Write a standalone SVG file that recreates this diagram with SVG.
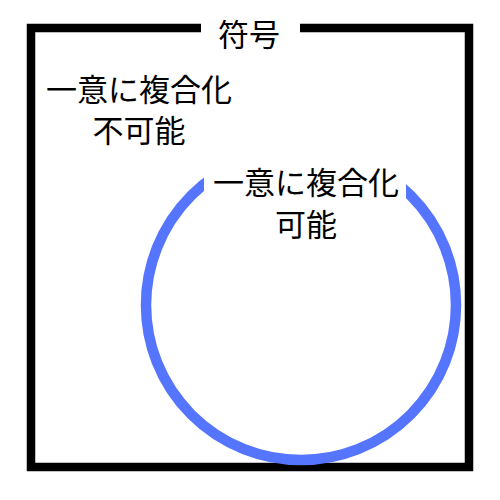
<svg xmlns="http://www.w3.org/2000/svg" width="500" height="500" viewBox="0 0 500 500">
<style>
.t{font-family:"Noto Sans CJK JP","Noto Sans",sans-serif;font-size:31px;fill:#000;text-anchor:middle}
</style>
<rect width="500" height="500" fill="#fff"/>
<g id="frame">
<rect x="31" y="28" width="438" height="439" fill="none" stroke="#000" stroke-width="8.5"/>
<rect x="201" y="18" width="99" height="20" fill="#fff"/>
<text class="t" x="249" y="46">符号</text>
</g>
<g id="outside">
<text class="t" x="139" y="101">一意に複合化</text>
<text class="t" x="139" y="142">不可能</text>
</g>
<g id="decodable">
<circle cx="301" cy="305" r="155" fill="none" stroke="#5575ff" stroke-width="10.5"/>
<rect x="204" y="140" width="202" height="58" fill="#fff"/>
<text class="t" x="306" y="194">一意に複合化</text>
<text class="t" x="306" y="236">可能</text>
</g>
</svg>
